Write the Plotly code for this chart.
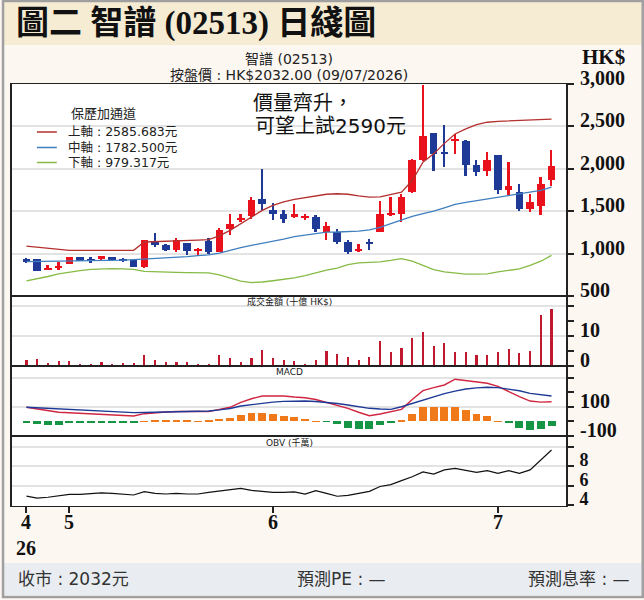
import plotly.graph_objects as go
from plotly.subplots import make_subplots

# ---------------- data ----------------
day_idx = list(range(50))
opens = [925, 935, 822, 838, 882, 960, 935, 933, 955, 941,
         921, 839, 1135, 1106, 1047, 1125, 1031, 1148, 1019, 1294,
         1392, 1439, 1647, 1518, 1471, 1431, 1435, 1431, 1254, 1254,
         1137, 1031, 1137, 1254, 1451, 1471, 1725, 2098, 2419, 2200,
         2325, 2333, 2039, 1980, 2157, 1745, 1725, 1529, 1556, 1871]
highs = [953, 940, 860, 900, 965, 965, 955, 975, 965, 950,
         925, 1160, 1243, 1110, 1188, 1130, 1065, 1180, 1300, 1462,
         1470, 1666, 2000, 1595, 1518, 1580, 1471, 1451, 1372, 1294,
         1160, 1118, 1176, 1619, 1666, 1706, 2110, 2990, 2425, 2521,
         2412, 2345, 2098, 2196, 2160, 2078, 1815, 1706, 1909, 2216]
lows = [889, 790, 805, 805, 880, 910, 895, 930, 915, 900,
        840, 835, 1080, 1035, 1019, 980, 980, 992, 1015, 1216,
        1372, 1412, 1509, 1392, 1360, 1420, 1392, 1254, 1165, 1118,
        1000, 1020, 1039, 1254, 1445, 1372, 1715, 2090, 1980, 2027,
        2176, 1921, 1921, 1921, 1706, 1686, 1501, 1490, 1451, 1792]
closes = [918, 795, 828, 852, 960, 913, 925, 972, 921, 909,
          842, 1157, 1105, 1039, 1165, 1031, 1059, 1019, 1282, 1353,
          1420, 1627, 1580, 1471, 1412, 1471, 1442, 1294, 1321, 1137,
          1019, 1059, 1110, 1462, 1478, 1666, 2098, 2392, 2176, 2184,
          2353, 2039, 1960, 2098, 1745, 1795, 1529, 1607, 1823, 2032]

boll_upper = [1089, 1078, 1065, 1050, 1039, 1039, 1039, 1039, 1039, 1039,
              1039, 1137, 1140, 1145, 1148, 1152, 1158, 1165, 1210, 1274,
              1350, 1431, 1510, 1568, 1610, 1640, 1660, 1680, 1700, 1706,
              1700, 1680, 1666, 1670, 1694, 1725, 1862, 2078, 2176, 2300,
              2410, 2470, 2520, 2549, 2560, 2566, 2570, 2574, 2580, 2585.683]
boll_mid = [905, 906, 907, 908, 909, 910, 912, 915, 918, 922,
            929, 935, 941, 948, 955, 965, 975, 985, 1005, 1040,
            1070, 1098, 1120, 1150, 1170, 1200, 1220, 1240, 1254, 1255,
            1260, 1266, 1280, 1310, 1353, 1400, 1439, 1470, 1500, 1540,
            1580, 1605, 1625, 1645, 1662, 1680, 1700, 1720, 1745, 1782.5]
boll_lower = [678, 700, 730, 760, 784, 800, 815, 823, 823, 820,
              815, 790, 784, 780, 778, 776, 775, 772, 750, 710,
              675, 659, 665, 680, 694, 715, 740, 775, 804, 830,
              870, 890, 895, 902, 920, 941, 910, 862, 810, 784,
              770, 757, 757, 762, 784, 800, 820, 862, 910, 979.317]

turnover = [1.9, 2.5, 1.1, 1.6, 1.7, 0.8, 0.8, 1.3, 0.8, 1.0,
            1.0, 3.8, 1.9, 1.3, 1.3, 1.3, 0.8, 0.8, 3.8, 2.6,
            1.3, 2.6, 5.2, 2.6, 1.9, 1.6, 0.8, 1.9, 4.9, 3.9,
            3.0, 1.9, 3.0, 8.2, 4.7, 6.1, 9.3, 11.3, 6.7, 7.8,
            4.7, 4.7, 3.6, 3.8, 4.7, 5.8, 4.4, 5.0, 16.9, 19.1]

macd_dif = [96, 85, 75, 62, 58, 55, 52, 50, 47, 43,
            36, 52, 60, 64, 67, 70, 68, 66, 80, 96,
            130, 155, 174, 176, 174, 167, 162, 150, 131, 110,
            89, 62, 38, 50, 66, 82, 150, 211, 232, 250,
            290, 280, 268, 262, 240, 203, 170, 139, 132, 134]
macd_dea = [96, 92, 88, 84, 80, 77, 74, 70, 66, 62,
            59, 60, 62, 64, 65, 66, 67, 70, 78, 88,
            105, 115, 125, 132, 137, 139, 139, 136, 130, 122,
            112, 100, 89, 84, 82, 100, 122, 146, 170, 190,
            208, 222, 230, 234, 232, 222, 210, 192, 182, 174]
macd_hist = [-6, -20, -24, -24, -14, -12, -12, -12, -12, -12,
             -12, 1, 5, 10, 5, 5, 1, 2, 15, 25,
             40, 55, 60, 50, 35, 30, 18, 1, -5, -22,
             -48, -52, -52, -28, -10, 8, 52, 95, 100, 100,
             100, 78, 50, 38, 1, -15, -45, -58, -52, -35]

obv = [4.92, 4.7, 4.8, 4.95, 5.1, 5.1, 5.15, 5.25, 5.2, 5.1,
       5.03, 5.37, 5.2, 5.13, 5.2, 5.13, 5.13, 5.3, 5.45, 5.6,
       5.7, 5.5, 5.4, 5.3, 5.3, 5.35, 5.13, 5.47, 5.2, 4.9,
       5.0, 5.2, 5.4, 5.9, 6.1, 6.5, 6.9, 7.4, 7.18, 7.6,
       7.75, 7.55, 7.35, 7.52, 7.25, 7.52, 7.25, 7.6, 8.6, 9.64]

xtick_pos = [0, 4, 23, 44]
xtick_text = ["4", "5", "6", "7"]
first_day_label = "26"

price_ticks = [500, 1000, 1500, 2000, 2500, 3000]
price_ticktext = ["500", "1,000", "1,500", "2,000", "2,500", "3,000"]
vol_ticks = [0, 10, 20]
vol_ticktext = ["0", "10", ""]
vol_minor = [5, 15]
macd_ticks = [-100, 100, 300]
macd_ticktext = ["-100", "100", ""]
macd_minor = [0, 200]
obv_ticks = [4, 6, 8, 10]
obv_ticktext = ["4", "6", "8", ""]

legend_title = "保歷加通道"
legend_items = [("上軸", boll_upper[-1]), ("中軸", boll_mid[-1]), ("下軸", boll_lower[-1])]

# ---------------- styling ----------------
W, H = 644, 600
PL, PR, PT, PB = 10, 566, 84, 506
RED = "#e8111c"
BLUE = "#1f3a96"
C_UP = "#b3302e"
C_MID = "#3f7fbf"
C_LOW = "#86bb45"
VOL_C = "#c0182f"
ORANGE = "#f07a1a"
GREEN = "#169645"
SERIF = "Liberation Serif, Noto Sans CJK TC, serif"
SANS = "DejaVu Sans, Noto Sans CJK TC, sans-serif"


def px(x):
    return (x - PL) / (PR - PL)


def py(y):
    return (PB - y) / (PB - PT)


fig = make_subplots(rows=4, cols=1, shared_xaxes=True, vertical_spacing=0,
                    row_heights=[212, 70, 70, 70])

# candles
cols = [RED if c >= o else BLUE for o, c in zip(opens, closes)]
MINB = 18
body_base, body_h = [], []
for o, c in zip(opens, closes):
    d = abs(c - o)
    lo = min(o, c)
    if d < MINB:
        lo = lo - (MINB - d) / 2
        d = MINB
    body_base.append(lo)
    body_h.append(d)

fig.add_trace(go.Bar(x=day_idx, y=[h - l for h, l in zip(highs, lows)], base=lows,
                     width=0.17, marker=dict(color=cols, line=dict(width=0))), row=1, col=1)
fig.add_trace(go.Bar(x=day_idx, y=body_h, base=body_base, width=0.7,
                     marker=dict(color=cols, line=dict(width=0))), row=1, col=1)

fig.add_trace(go.Scatter(x=day_idx, y=boll_upper, mode="lines", line=dict(color=C_UP, width=1.3)), row=1, col=1)
fig.add_trace(go.Scatter(x=day_idx, y=boll_mid, mode="lines", line=dict(color=C_MID, width=1.3)), row=1, col=1)
fig.add_trace(go.Scatter(x=day_idx, y=boll_lower, mode="lines", line=dict(color=C_LOW, width=1.3)), row=1, col=1)

# turnover
fig.add_trace(go.Bar(x=day_idx, y=turnover, width=0.2,
                     marker=dict(color=VOL_C, line=dict(width=0))), row=2, col=1)

# MACD
hist_cols = [ORANGE if v >= 0 else GREEN for v in macd_hist]
fig.add_trace(go.Bar(x=day_idx, y=macd_hist, width=0.74,
                     marker=dict(color=hist_cols, line=dict(width=0))), row=3, col=1)
fig.add_trace(go.Scatter(x=day_idx, y=macd_dif, mode="lines", line=dict(color="#d0263f", width=1.4)), row=3, col=1)
fig.add_trace(go.Scatter(x=day_idx, y=macd_dea, mode="lines", line=dict(color="#1f3a96", width=1.4)), row=3, col=1)

# OBV
fig.add_trace(go.Scatter(x=day_idx, y=obv, mode="lines", line=dict(color="#111111", width=1.2)), row=4, col=1)

tickfont = dict(family=SERIF, size=20, color="#111111", weight="bold")
common_y = dict(side="right", ticks="outside", ticklen=6, tickwidth=1.5, tickcolor="#222222",
                showline=True, mirror=True, linewidth=2, linecolor="#222222",
                showgrid=True, gridcolor="#e3e3e3", gridwidth=1.5, zeroline=False,
                ticklabelposition="outside", ticklabelshift=-6, ticklabelstandoff=2)

fig.update_yaxes(range=[500, 3000], tickvals=price_ticks, ticktext=price_ticktext, tickfont=tickfont,
                 row=1, col=1, **common_y)
fig.update_yaxes(range=[0, 70 / 3], tickvals=vol_ticks, ticktext=vol_ticktext, tickfont=tickfont,
                 minor=dict(tickvals=vol_minor, ticks="outside", ticklen=6, tickcolor="#222222", showgrid=False),
                 row=2, col=1, **common_y)
fig.update_yaxes(range=[-102, 381], tickvals=macd_ticks, ticktext=macd_ticktext, tickfont=tickfont,
                 minor=dict(tickvals=macd_minor, ticks="outside", ticklen=6, tickcolor="#222222", showgrid=False),
                 row=3, col=1, **common_y)
fig.update_yaxes(range=[3.9, 11.08], tickvals=obv_ticks, ticktext=obv_ticktext,
                 tickfont=dict(family=SERIF, size=18, color="#111111", weight="bold"),
                 row=4, col=1, **common_y)

fig.update_xaxes(range=[-1.35, 50.35], showline=True, mirror=True, linewidth=1, linecolor="#222222",
                 showgrid=False, zeroline=False, ticks="")
fig.update_xaxes(tickvals=xtick_pos, ticktext=["" for _ in xtick_pos], ticks="outside", ticklen=6,
                 tickwidth=1.5, tickcolor="#222222", showticklabels=True, row=4, col=1)

shapes = [
    dict(type="rect", xref="paper", yref="paper", x0=px(2), x1=px(642), y0=py(45), y1=py(2),
         fillcolor="#f6ecd3", line=dict(width=0), layer="below"),
    dict(type="rect", xref="paper", yref="paper", x0=px(2), x1=px(642), y0=py(595), y1=py(563),
         fillcolor="#e9edf2", line=dict(width=0), layer="below"),
    dict(type="rect", xref="paper", yref="paper", x0=px(1), x1=px(643), y0=py(597), y1=py(1),
         fillcolor="rgba(0,0,0,0)", line=dict(color="#a0a0a0", width=2.5)),
]
leg_cols = [C_UP, C_MID, C_LOW]
leg_y = [132, 147.5, 162.5]
annotations = [
    dict(text="圖二 智譜 (02513) 日綫圖", x=px(12), y=py(23), xanchor="left", yanchor="middle",
         font=dict(family=SERIF, size=33, color="#111111", weight="bold")),
    dict(text="智譜 (02513)", x=px(288), y=py(59), xanchor="center", yanchor="middle",
         font=dict(family=SANS, size=14, color="#222222")),
    dict(text="按盤價 : HK$2032.00 (09/07/2026)", x=px(288), y=py(75), xanchor="center", yanchor="middle",
         font=dict(family=SANS, size=14, color="#222222")),
    dict(text="HK$", x=px(604), y=py(57), xanchor="center", yanchor="middle",
         font=dict(family=SERIF, size=21, color="#111111", weight="bold")),
    dict(text=legend_title, x=px(102), y=py(113), xanchor="center", yanchor="middle",
         font=dict(family=SANS, size=13, color="#222222")),
    dict(text="價量齊升，", x=px(250), y=py(103), xanchor="left", yanchor="middle",
         font=dict(family=SANS, size=20, color="#111111")),
    dict(text="可望上試2590元", x=px(252), y=py(126), xanchor="left", yanchor="middle",
         font=dict(family=SANS, size=20, color="#111111")),
    dict(text="成交金額 (十億 HK$)", x=px(288), y=py(301), xanchor="center", yanchor="middle",
         font=dict(family=SANS, size=9, color="#222222")),
    dict(text="MACD", x=px(288), y=py(371.5), xanchor="center", yanchor="middle",
         font=dict(family=SANS, size=9, color="#222222")),
    dict(text="OBV (千萬)", x=px(288), y=py(442), xanchor="center", yanchor="middle",
         font=dict(family=SANS, size=9, color="#222222")),
    dict(text="收市 : 2032元", x=px(14), y=py(579), xanchor="left", yanchor="middle",
         font=dict(family=SANS, size=17, color="#333333")),
    dict(text="預測PE : —", x=px(341), y=py(579), xanchor="center", yanchor="middle",
         font=dict(family=SANS, size=17, color="#333333")),
    dict(text="預測息率 : —", x=px(632), y=py(579), xanchor="right", yanchor="middle",
         font=dict(family=SANS, size=17, color="#333333")),
]
for (name, val), c, yy in zip(legend_items, leg_cols, leg_y):
    shapes.append(dict(type="line", xref="paper", yref="paper", x0=px(35), x1=px(55), y0=py(yy), y1=py(yy),
                       line=dict(color=c, width=1.5)))
    annotations.append(dict(text=f"{name} : {val:.3f}元", x=px(64), y=py(yy), xanchor="left", yanchor="middle",
                            font=dict(family=SANS, size=12.5, color="#222222")))

for a in annotations:
    a.update(xref="paper", yref="paper", showarrow=False)

# x tick labels (month numbers) placed under their ticks, plus the day under the first one
for xp, t in zip(xtick_pos, xtick_text):
    annotations.append(dict(text=t, xref="x4", x=xp, yref="paper", y=py(522),
                            xanchor="center", yanchor="middle", showarrow=False, font=tickfont))
annotations.append(dict(text=first_day_label, xref="x4", x=xtick_pos[0], yref="paper", y=py(548),
                        xanchor="center", yanchor="middle", showarrow=False, font=tickfont))

fig.update_layout(width=W, height=H, autosize=False,
                  margin=dict(l=PL, r=W - PR, t=PT, b=H - PB, pad=0),
                  paper_bgcolor="#fdf7f2", plot_bgcolor="#ffffff",
                  barmode="overlay", bargap=0, showlegend=False,
                  shapes=shapes, annotations=annotations)

fig.write_html("out.html", config={"displayModeBar": False},
               post_script="document.body.style.margin='0';document.body.style.padding='0';"
                           "document.documentElement.style.overflow='hidden';")
